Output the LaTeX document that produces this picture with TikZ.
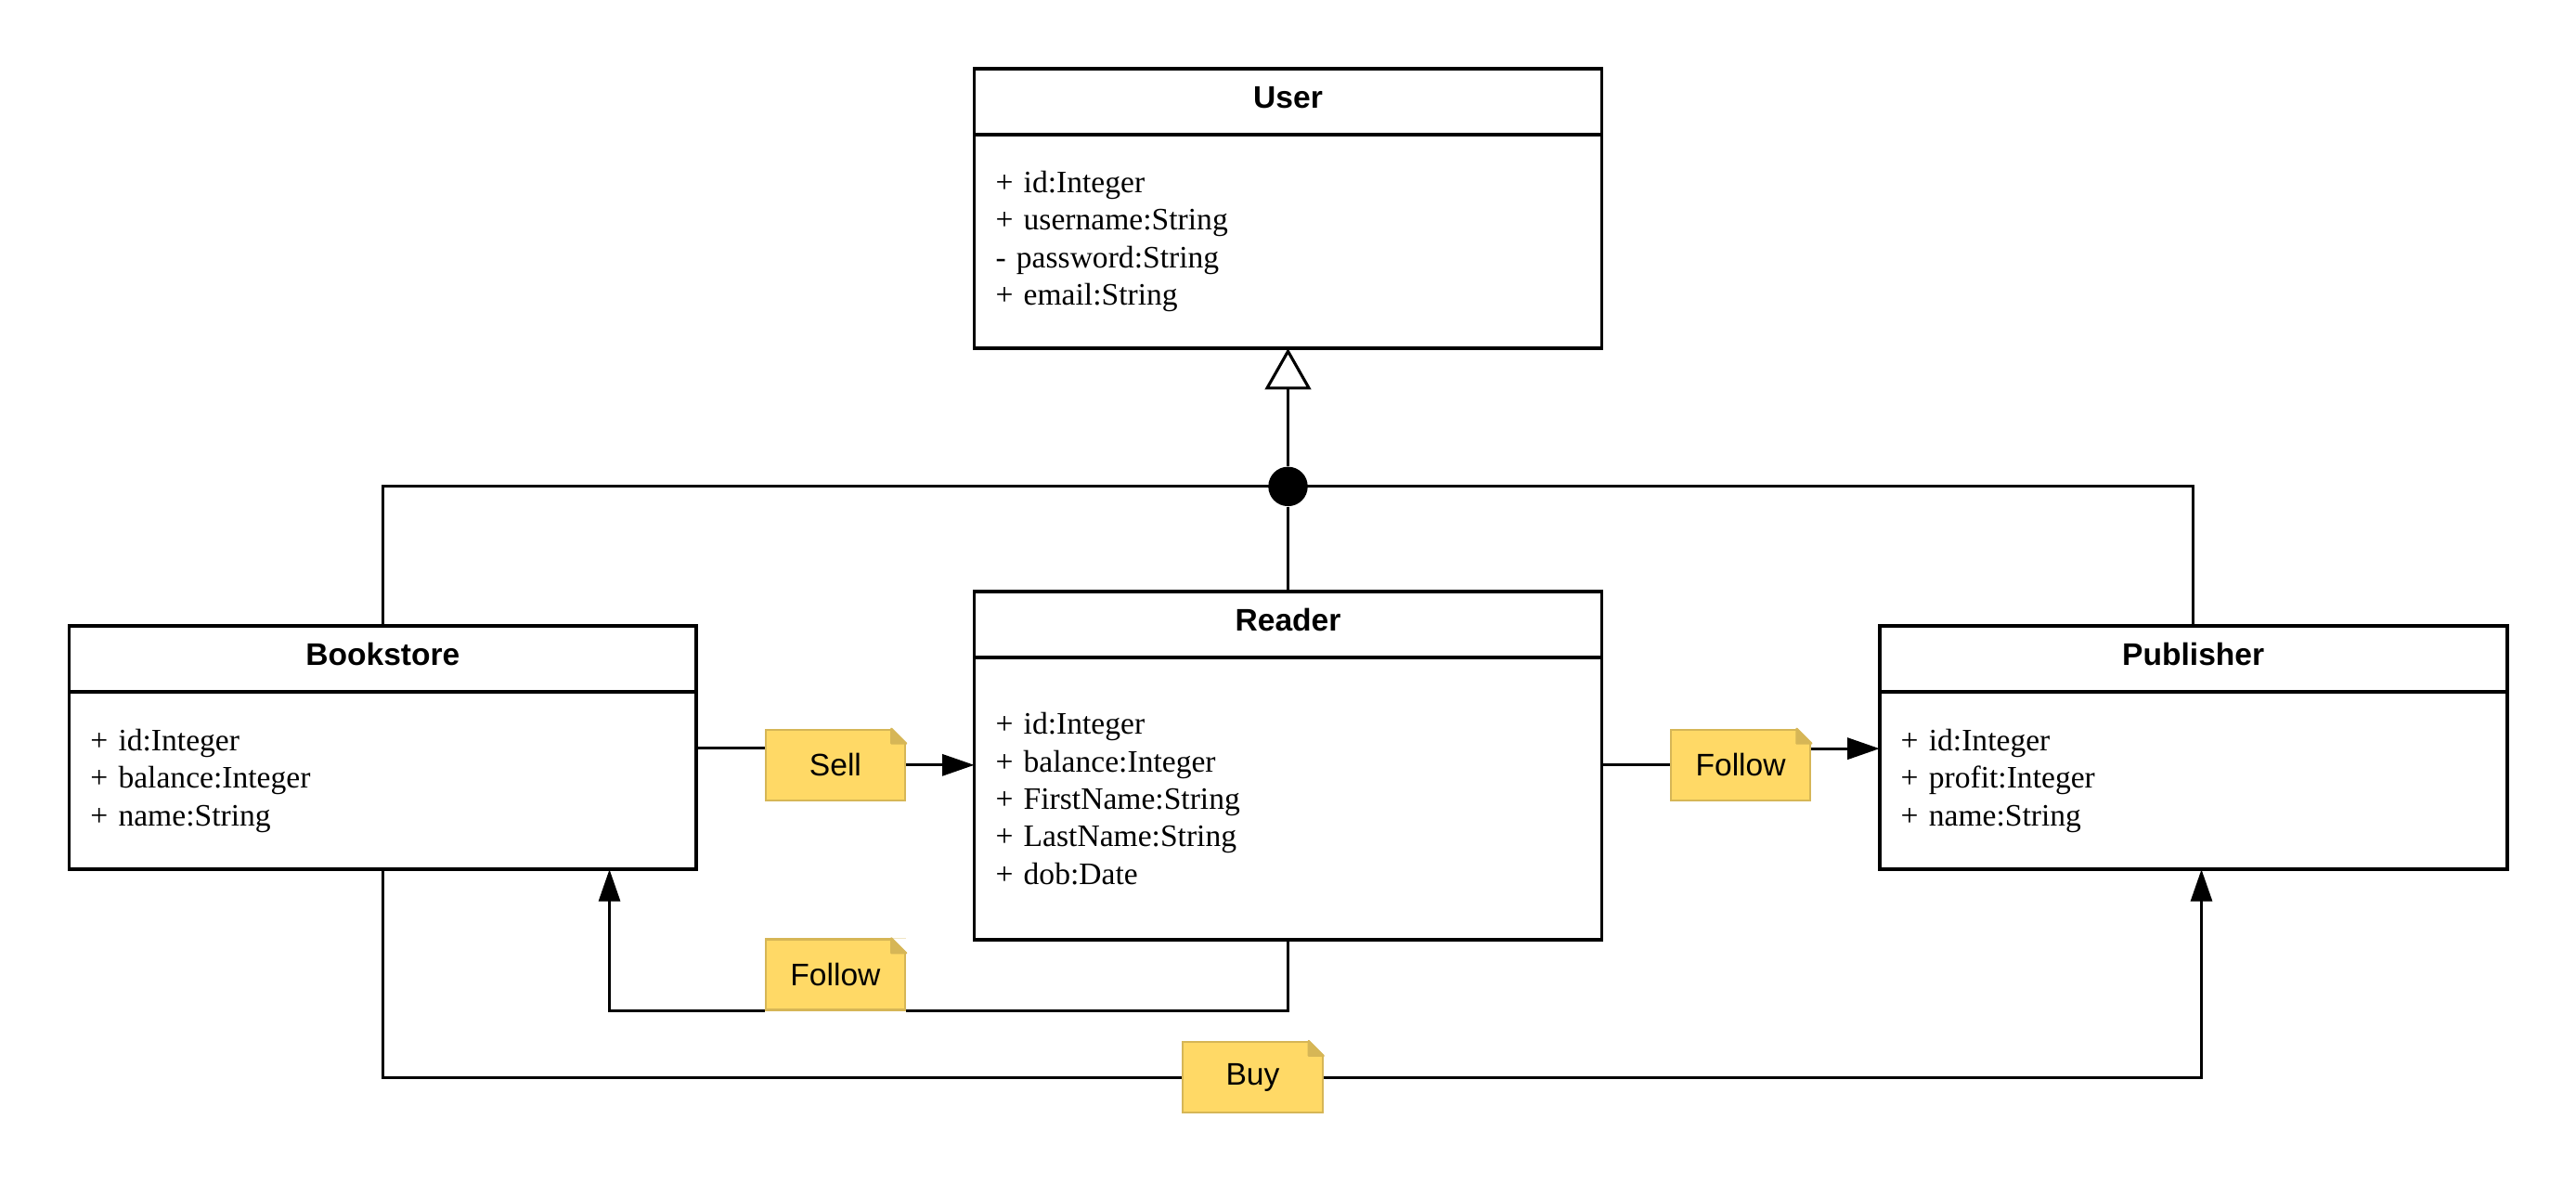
\documentclass[tikz,border=0pt]{standalone}
\usepackage{fontspec}
\setmainfont{Liberation Serif}
\setsansfont{Liberation Sans}
\usetikzlibrary{arrows.meta}
\usetikzlibrary{calc}
\usetikzlibrary{positioning}

\definecolor{noteyellow}{HTML}{FFD966}
\definecolor{noteedge}{HTML}{D6B656}

\tikzset{
  classhead/.style={draw, line width=1.2pt, outer sep=0pt, minimum width=7.64cm, minimum height=0.8cm, text height=6.6pt, text depth=2.2pt, font=\sffamily\bfseries\fontsize{10.8}{13}\selectfont},
  classbody/.style={draw, line width=1.2pt, outer sep=0pt, text width=7.12cm, inner xsep=0.26cm, inner ysep=0pt, align=left, font=\fontsize{10.8}{13}\selectfont},
  notebox/.style={fill=noteyellow, draw=noteedge, line width=0.7pt, minimum width=1.7cm, minimum height=0.86cm, font=\sffamily\fontsize{10.8}{13}\selectfont},
  conn/.style={line width=1pt},
  arr/.style={conn, -{Triangle[length=0.39cm, width=0.26cm]}},
}

\begin{document}
\begin{tikzpicture}[x=0.02cm, y=-0.02cm]
\useasboundingbox (0,0) rectangle (1568,720.4);

% classes
\node[classhead, anchor=north] (userhead) at (784,42) {User};
\node[classbody, minimum height=2.6cm, below=0pt of userhead] (userbody) {+ id:Integer\\ + username:String\\ - password:String\\ + email:String};

\node[classhead, anchor=north] (bookhead) at (233,381) {Bookstore};
\node[classbody, minimum height=2.16cm, below=0pt of bookhead] (bookbody) {+ id:Integer\\ + balance:Integer\\ + name:String};

\node[classhead, anchor=north] (readhead) at (784,360) {Reader};
\node[classbody, minimum height=3.44cm, below=0pt of readhead] (readbody) {+ id:Integer\\ + balance:Integer\\ + FirstName:String\\ + LastName:String\\ + dob:Date};

\node[classhead, anchor=north] (pubhead) at (1335,381) {Publisher};
\node[classbody, minimum height=2.16cm, below=0pt of pubhead] (pubbody) {+ id:Integer\\ + profit:Integer\\ + name:String};

% inheritance
\node[circle, fill, inner sep=0pt, minimum size=0.48cm] (join) at (784,296) {};
\draw[conn, -{Triangle[open, length=0.5cm, width=0.56cm, fill=white]}] (join) -- (userbody.south);
\draw[conn] (bookhead.north) |- (join.center) -| (pubhead.north);
\draw[conn] (join) -- (readhead.north);

% notes
\node[notebox] (sell) at (508.5,465.5) {Sell};
\node[notebox] (followR) at (1059.5,465.5) {Follow};
\node[notebox] (followB) at (508.5,593) {Follow};
\node[notebox] (buy) at (762.5,655.5) {Buy};
% folded corners
\foreach \n in {sell,followR,followB,buy} {
  \fill[white] ([xshift=-0.18cm]\n.north east) -- (\n.north east) -- ([yshift=-0.18cm]\n.north east) -- cycle;
  \filldraw[noteedge, line width=0.7pt, line join=round] ([xshift=-0.18cm]\n.north east) -- ([xshift=-0.18cm,yshift=-0.18cm]\n.north east) -- ([yshift=-0.18cm]\n.north east) -- cycle;
}

% associations
\coordinate (bookIn) at ([xshift=2.76cm]bookbody.south);
\coordinate (pubIn) at ([xshift=0.1cm]pubbody.south);

\draw[conn] ([yshift=0.4cm]bookbody.east) -- ([yshift=0.4cm]bookbody.east -| sell.west);
\draw[arr] (sell.east) -- (sell.east -| readbody.west);

\draw[conn] (followR.west -| readbody.east) -- (followR.west);
\draw[arr] ([yshift=0.2cm]followR.east) -- ([yshift=0.2cm]followR.east -| pubbody.west);

\draw[conn] (readbody.south) |- (followB.south east);
\draw[arr] (followB.south west) -| (bookIn);

\draw[conn] (bookbody.south) |- (buy.west);
\draw[arr] (buy.east) -| (pubIn);
\end{tikzpicture}
\end{document}
